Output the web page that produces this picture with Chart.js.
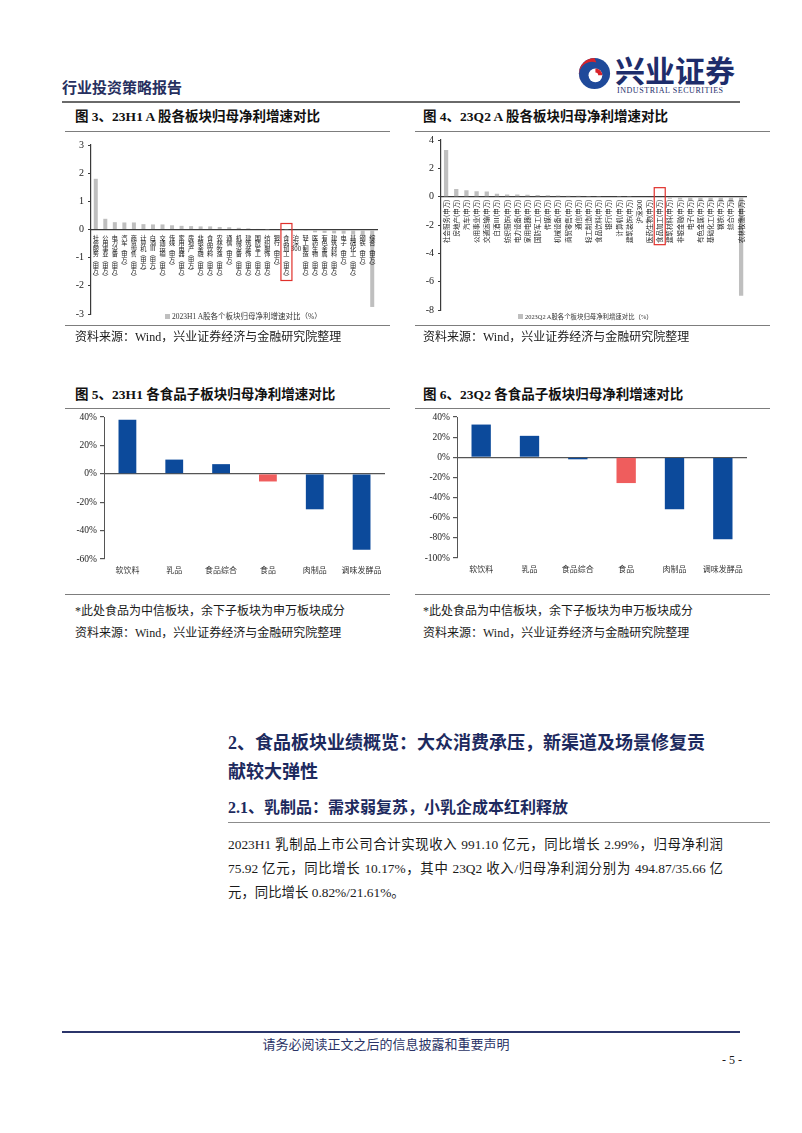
<!DOCTYPE html>
<html lang="zh-CN">
<head>
<meta charset="utf-8">
<title>行业投资策略报告 - 食品板块归母净利增速对比</title>
<script src="https://cdn.jsdelivr.net/npm/chart.js@4.4.1/dist/chart.umd.min.js"></script>
<style>
  html, body { margin: 0; padding: 0; background: #fff; }
  body {
    width: 802px; height: 1133px; position: relative; overflow: hidden;
    font-family: "Liberation Serif", "Noto Sans CJK SC", serif; color: #1a1a1a;
  }
  .abs { position: absolute; white-space: nowrap; }
  .rule { position: absolute; height: 0; border-top: 1px solid #7d7d7d; }
  .fig-title { font-size: 13.5px; line-height: 18px; font-weight: bold; color: #111; }
  .source { font-size: 12px; line-height: 16px; color: #1a1a1a; }
  .chart-box { position: absolute; }
  .legend { font-size: 7.5px; line-height: 10px; color: #333; }
  .legend i { display: inline-block; width: 5px; height: 5px; background: #bfbfbf; margin-right: 2px; vertical-align: 0; }
  .heading { font-size: 18px; line-height: 29px; font-weight: bold; color: #1d2a5e; }
  .subheading { font-size: 16px; line-height: 20px; font-weight: bold; color: #1d2a5e; }
  .body-line { font-size: 13.4px; line-height: 24px; width: 495px; text-align: justify; text-align-last: justify; }
</style>
</head>
<body>

<!-- header -->
<div class="abs" style="left:62px;top:78px;font-size:15px;line-height:20px;font-weight:bold;color:#27305f;">行业投资策略报告</div>
<svg class="abs" style="left:578px;top:57px;" width="33" height="33" viewBox="0 0 36 36">
  <circle cx="18" cy="18" r="17" fill="#1f4a9a"/>
  <path d="M18 1 A17 17 0 0 0 3 26 A14 14 0 0 1 20 6 Z" fill="#d8232a"/>
  <circle cx="19" cy="20" r="7.5" fill="#fff"/>
  <path d="M19 12.5 A7.5 7.5 0 0 1 26.5 20 L22 20 A3 3 0 0 0 19 17 Z" fill="#d8232a"/>
</svg>
<div class="abs" style="left:615px;top:52px;font-size:30px;line-height:34px;font-weight:bold;color:#1e2d6b;font-family:'Noto Sans CJK SC',sans-serif;">兴业证券</div>
<div class="abs" style="left:617px;top:86px;font-size:8px;line-height:10px;color:#1e2d6b;letter-spacing:0.55px;">INDUSTRIAL SECURITIES</div>
<div class="rule" style="left:62px;top:101px;width:678px;border-top:2px solid #6a6a6a;"></div>

<!-- figure 3 / 4 -->
<div class="abs fig-title" style="left:75px;top:108px;">图 3、23H1 A 股各板块归母净利增速对比</div>
<div class="abs fig-title" style="left:423px;top:108px;">图 4、23Q2 A 股各板块归母净利增速对比</div>
<div class="rule" style="left:65px;top:131px;width:325px;"></div>
<div class="rule" style="left:415px;top:131px;width:355px;"></div>

<div class="chart-box" style="left:62px;top:132px;width:320px;height:192px;"><canvas id="h1SectorChart"></canvas></div>
<div class="chart-box" style="left:412px;top:130px;width:340px;height:190px;"><canvas id="q2SectorChart"></canvas></div>
<div class="abs legend" style="left:165px;top:312px;"><i></i>2023H1 A股各个板块归母净利增速对比（%）</div>
<div class="abs legend" style="left:518px;top:312px;font-size:6.4px;"><i></i>2023Q2 A股各个板块归母净利增速对比（%）</div>

<div class="rule" style="left:65px;top:325px;width:325px;"></div>
<div class="rule" style="left:415px;top:325px;width:355px;"></div>
<div class="abs source" style="left:75px;top:329px;">资料来源：Wind，兴业证券经济与金融研究院整理</div>
<div class="abs source" style="left:423px;top:329px;">资料来源：Wind，兴业证券经济与金融研究院整理</div>

<!-- figure 5 / 6 -->
<div class="abs fig-title" style="left:75px;top:386px;">图 5、23H1 各食品子板块归母净利增速对比</div>
<div class="abs fig-title" style="left:423px;top:386px;">图 6、23Q2 各食品子板块归母净利增速对比</div>
<div class="rule" style="left:65px;top:408px;width:325px;"></div>
<div class="rule" style="left:415px;top:408px;width:355px;"></div>

<div class="chart-box" style="left:62px;top:405px;width:330px;height:180px;"><canvas id="h1FoodChart"></canvas></div>
<div class="chart-box" style="left:412px;top:405px;width:340px;height:180px;"><canvas id="q2FoodChart"></canvas></div>

<div class="rule" style="left:65px;top:594px;width:325px;"></div>
<div class="rule" style="left:415px;top:594px;width:355px;"></div>
<div class="abs source" style="left:75px;top:603px;">*此处食品为中信板块，余下子板块为申万板块成分</div>
<div class="abs source" style="left:423px;top:603px;">*此处食品为中信板块，余下子板块为申万板块成分</div>
<div class="abs source" style="left:75px;top:625px;">资料来源：Wind，兴业证券经济与金融研究院整理</div>
<div class="abs source" style="left:423px;top:625px;">资料来源：Wind，兴业证券经济与金融研究院整理</div>

<!-- section text -->
<div class="abs heading" style="left:228px;top:729px;">2、食品板块业绩概览：大众消费承压，新渠道及场景修复贡<br>献较大弹性</div>
<div class="abs subheading" style="left:228px;top:798px;">2.1、乳制品：需求弱复苏，小乳企成本红利释放</div>
<div class="rule" style="left:228px;top:822px;width:542px;border-top-color:#8c8c8c;"></div>
<div class="abs body-line" style="left:228px;top:833px;">2023H1 乳制品上市公司合计实现收入 991.10 亿元，同比增长 2.99%，归母净利润</div>
<div class="abs body-line" style="left:228px;top:857px;">75.92 亿元，同比增长 10.17%，其中 23Q2 收入/归母净利润分别为 494.87/35.66 亿</div>
<div class="abs" style="left:228px;top:881px;font-size:13.4px;line-height:24px;">元，同比增长 0.82%/21.61%。</div>

<!-- footer -->
<div class="rule" style="left:62px;top:1031px;width:678px;border-top:2px solid #2b356b;"></div>
<div class="abs" style="left:0;width:772px;top:1036px;text-align:center;font-size:13px;line-height:18px;color:#2a3366;">请务必阅读正文之后的信息披露和重要声明</div>
<div class="abs" style="left:722px;top:1052px;font-size:12px;line-height:16px;">- 5 -</div>

<script>
// 图3：23H1 A股各板块归母净利增速（%）
const h1Sectors = [
  "社会服务(申万)", "公用事业(申万)", "电力设备(申万)", "汽车(申万)", "商贸零售(申万)",
  "计算机(申万)", "白酒Ⅲ(申万)", "交通运输(申万)", "传媒(申万)", "家用电器(申万)",
  "房地产(申万)", "非银金融(申万)", "食品饮料(申万)", "农林牧渔(申万)", "通信(申万)",
  "机械设备(申万)", "建筑装饰(申万)", "国防军工(申万)", "纺织服饰(申万)", "银行(申万)",
  "食品加工(申万)", "沪深300", "轻工制造(申万)", "医药生物(申万)", "有色金属(申万)",
  "建筑材料(申万)", "电子(申万)", "基础化工(申万)", "钢铁(申万)", "综合(申万)",
];
const h1Growth = [
  1.8, 0.38, 0.26, 0.25, 0.25, 0.19, 0.18, 0.18, 0.15, 0.13,
  0.12, 0.11, 0.11, 0.09, 0.08, 0.06, 0.04, 0.02, 0.01, 0.0,
  -0.01, -0.02, -0.05, -0.1, -0.12, -0.14, -0.15, -0.18, -0.2, -2.75,
];
const h1Ticks = [3, 2, 1, 0, -1, -2, -3];

// 图4：23Q2 A股各板块归母净利增速（%）
const q2Sectors = [
  "社会服务(申万)", "房地产(申万)", "汽车(申万)", "公用事业(申万)", "交通运输(申万)",
  "白酒Ⅲ(申万)", "纺织服饰(申万)", "电力设备(申万)", "家用电器(申万)", "国防军工(申万)",
  "传媒(申万)", "机械设备(申万)", "商贸零售(申万)", "通信(申万)", "轻工制造(申万)",
  "食品饮料(申万)", "银行(申万)", "计算机(申万)", "建筑装饰(申万)", "沪深300",
  "医药生物(申万)", "食品加工(申万)", "建筑材料(申万)", "非银金融(申万)", "电子(申万)",
  "有色金属(申万)", "基础化工(申万)", "钢铁(申万)", "综合(申万)", "农林牧渔(申万)",
];
const q2Growth = [
  3.3, 0.55, 0.46, 0.38, 0.36, 0.2, 0.16, 0.15, 0.14, 0.12,
  0.1, 0.09, 0.07, 0.06, 0.05, 0.04, 0.03, 0.02, 0.01, 0.0,
  -0.02, -0.05, -0.15, -0.2, -0.25, -0.3, -0.33, -0.36, -0.4, -7.0,
];
const q2Ticks = [4, 2, 0, -2, -4, -6, -8];

// 图5 / 图6：各食品子板块归母净利增速（%）
const foodSectors = ["软饮料", "乳品", "食品综合", "食品", "肉制品", "调味发酵品"];
const foodH1Growth = [38, 10, 6.8, -5.4, -25, -53.5];
const foodQ2Growth = [32.5, 21.3, -2, -25.6, -51.5, -81.3];
const foodH1Ticks = [40, 30, 20, 10, 0, -10, -20, -30, -40, -50, -60];
const foodQ2Ticks = [40, 20, 0, -20, -40, -60, -80, -100];

const markedSector = "食品加工(申万)";
const citicSector = "食品";

const GRAY = "#bfbfbf";
const BLUE = "#0c4a9b";
const RED = "#ef5d5d";
const AXIS = "#3a3a3a";
const SERIF = "'Liberation Serif', 'Noto Sans CJK SC', serif";
const CJK = "'Noto Sans CJK SC', sans-serif";

Chart.defaults.animation = false;
Chart.defaults.color = "#222";

// 竖排标签：逐字换行，括号换成竖排括号，数字/字母保持一组
function stackChars(label) {
  const parts = label.match(/[A-Za-z0-9]+|./gu) || [];
  return parts.map((c) => (c === "(" ? "︵" : c === ")" ? "︶" : c));
}

// 给“食品加工”的标签画红框
const redBoxPlugin = {
  id: "redBox",
  afterDraw(chart, args, opts) {
    if (opts.index == null || opts.index < 0) return;
    const { ctx } = chart;
    const x = chart.scales.x.getPixelForValue(opts.index);
    const y0 = chart.scales.y.getPixelForValue(0);
    ctx.save();
    ctx.strokeStyle = "#e0302b";
    ctx.lineWidth = 1.2;
    ctx.strokeRect(x - opts.half, y0 - opts.above, opts.half * 2, opts.above + opts.below);
    ctx.restore();
  },
};

function fixedTicks(list) {
  return (axis) => {
    axis.ticks = list.map((v) => ({ value: v }));
  };
}

function initSectorChart(id, labels, values, ticks, opts) {
  const ctx = document.getElementById(id).getContext("2d");
  return new Chart(ctx, {
    type: "bar",
    data: {
      labels: labels,
      datasets: [
        {
          data: values,
          backgroundColor: GRAY,
          borderWidth: 0,
          barPercentage: 0.42,
          categoryPercentage: 1,
        },
      ],
    },
    plugins: [redBoxPlugin],
    options: {
      responsive: true,
      maintainAspectRatio: false,
      layout: { padding: opts.padding },
      plugins: {
        legend: { display: false },
        tooltip: { enabled: false },
        redBox: opts.box,
      },
      scales: {
        x: {
          type: "category",
          position: { y: 0 },
          grid: { display: false, drawTicks: false },
          border: { display: true, color: AXIS, width: 1.2 },
          ticks: opts.xTicks,
        },
        y: {
          min: ticks[ticks.length - 1],
          max: ticks[0],
          afterBuildTicks: fixedTicks(ticks),
          afterFit: (scale) => {
            scale.width = opts.yWidth;
          },
          grid: { drawOnChartArea: false, tickLength: 3, color: AXIS },
          border: { color: AXIS, width: 1.2 },
          ticks: { font: { family: SERIF, size: 10 }, color: "#222", padding: 4 },
        },
      },
    },
  });
}

function initFoodChart(id, values, ticks, opts) {
  const ctx = document.getElementById(id).getContext("2d");
  return new Chart(ctx, {
    type: "bar",
    data: {
      labels: foodSectors,
      datasets: [
        {
          data: values,
          backgroundColor: foodSectors.map((s) => (s === citicSector ? RED : BLUE)),
          borderWidth: 0,
          barPercentage: opts.barPct,
          categoryPercentage: 1,
        },
      ],
    },
    options: {
      responsive: true,
      maintainAspectRatio: false,
      layout: { padding: opts.padding },
      plugins: {
        legend: { display: false },
        tooltip: { enabled: false },
      },
      scales: {
        x: {
          grid: { display: false, drawTicks: false },
          border: { display: false },
          afterFit: (scale) => {
            scale.height = opts.xHeight;
          },
          ticks: {
            font: { family: CJK, size: 8 },
            color: "#333",
            padding: 6,
            maxRotation: 0,
            autoSkip: false,
          },
        },
        y: {
          min: ticks[ticks.length - 1],
          max: ticks[0],
          afterBuildTicks: fixedTicks(ticks),
          afterFit: (scale) => {
            scale.width = opts.yWidth;
          },
          grid: {
            color: (c) => (c.tick && c.tick.value === 0 ? "#555" : "rgba(0,0,0,0)"),
            tickColor: "#555",
            tickLength: 4,
            lineWidth: 1.2,
          },
          border: { color: "#555", width: 1 },
          ticks: {
            font: { family: SERIF, size: 9.5 },
            color: "#222",
            padding: 3,
            callback: (v) => v + "%",
          },
        },
      },
    },
  });
}

function init() {
  initSectorChart("h1SectorChart", h1Sectors, h1Growth, h1Ticks, {
    padding: { top: 13, right: 5, bottom: 9, left: 0 },
    yWidth: 29,
    xTicks: {
      z: 1,
      autoSkip: false,
      maxRotation: 0,
      minRotation: 0,
      padding: 5,
      color: "#222",
      font: { family: CJK, size: 6.2, lineHeight: 0.9 },
      callback: function (value) {
        return stackChars(this.getLabelForValue(value));
      },
    },
    box: { index: h1Sectors.indexOf(markedSector), half: 5.5, above: 6, below: 51 },
  });

  initSectorChart("q2SectorChart", q2Sectors, q2Growth, q2Ticks, {
    padding: { top: 10, right: 5, bottom: 8, left: 0 },
    yWidth: 29,
    xTicks: {
      z: 1,
      autoSkip: false,
      maxRotation: 90,
      minRotation: 90,
      padding: 3,
      color: "#222",
      font: { family: CJK, size: 6.5 },
    },
    box: { index: q2Sectors.indexOf(markedSector), half: 5.5, above: 9, below: 48 },
  });

  initFoodChart("h1FoodChart", foodH1Growth, foodH1Ticks, {
    padding: { top: 12, right: 7, bottom: 0, left: 0 },
    yWidth: 42,
    xHeight: 26,
    barPct: 0.38,
  });

  initFoodChart("q2FoodChart", foodQ2Growth, foodQ2Ticks, {
    padding: { top: 12, right: 5, bottom: 0, left: 0 },
    yWidth: 45,
    xHeight: 27,
    barPct: 0.4,
  });
}

document.addEventListener("DOMContentLoaded", init);
</script>
</body>
</html>
